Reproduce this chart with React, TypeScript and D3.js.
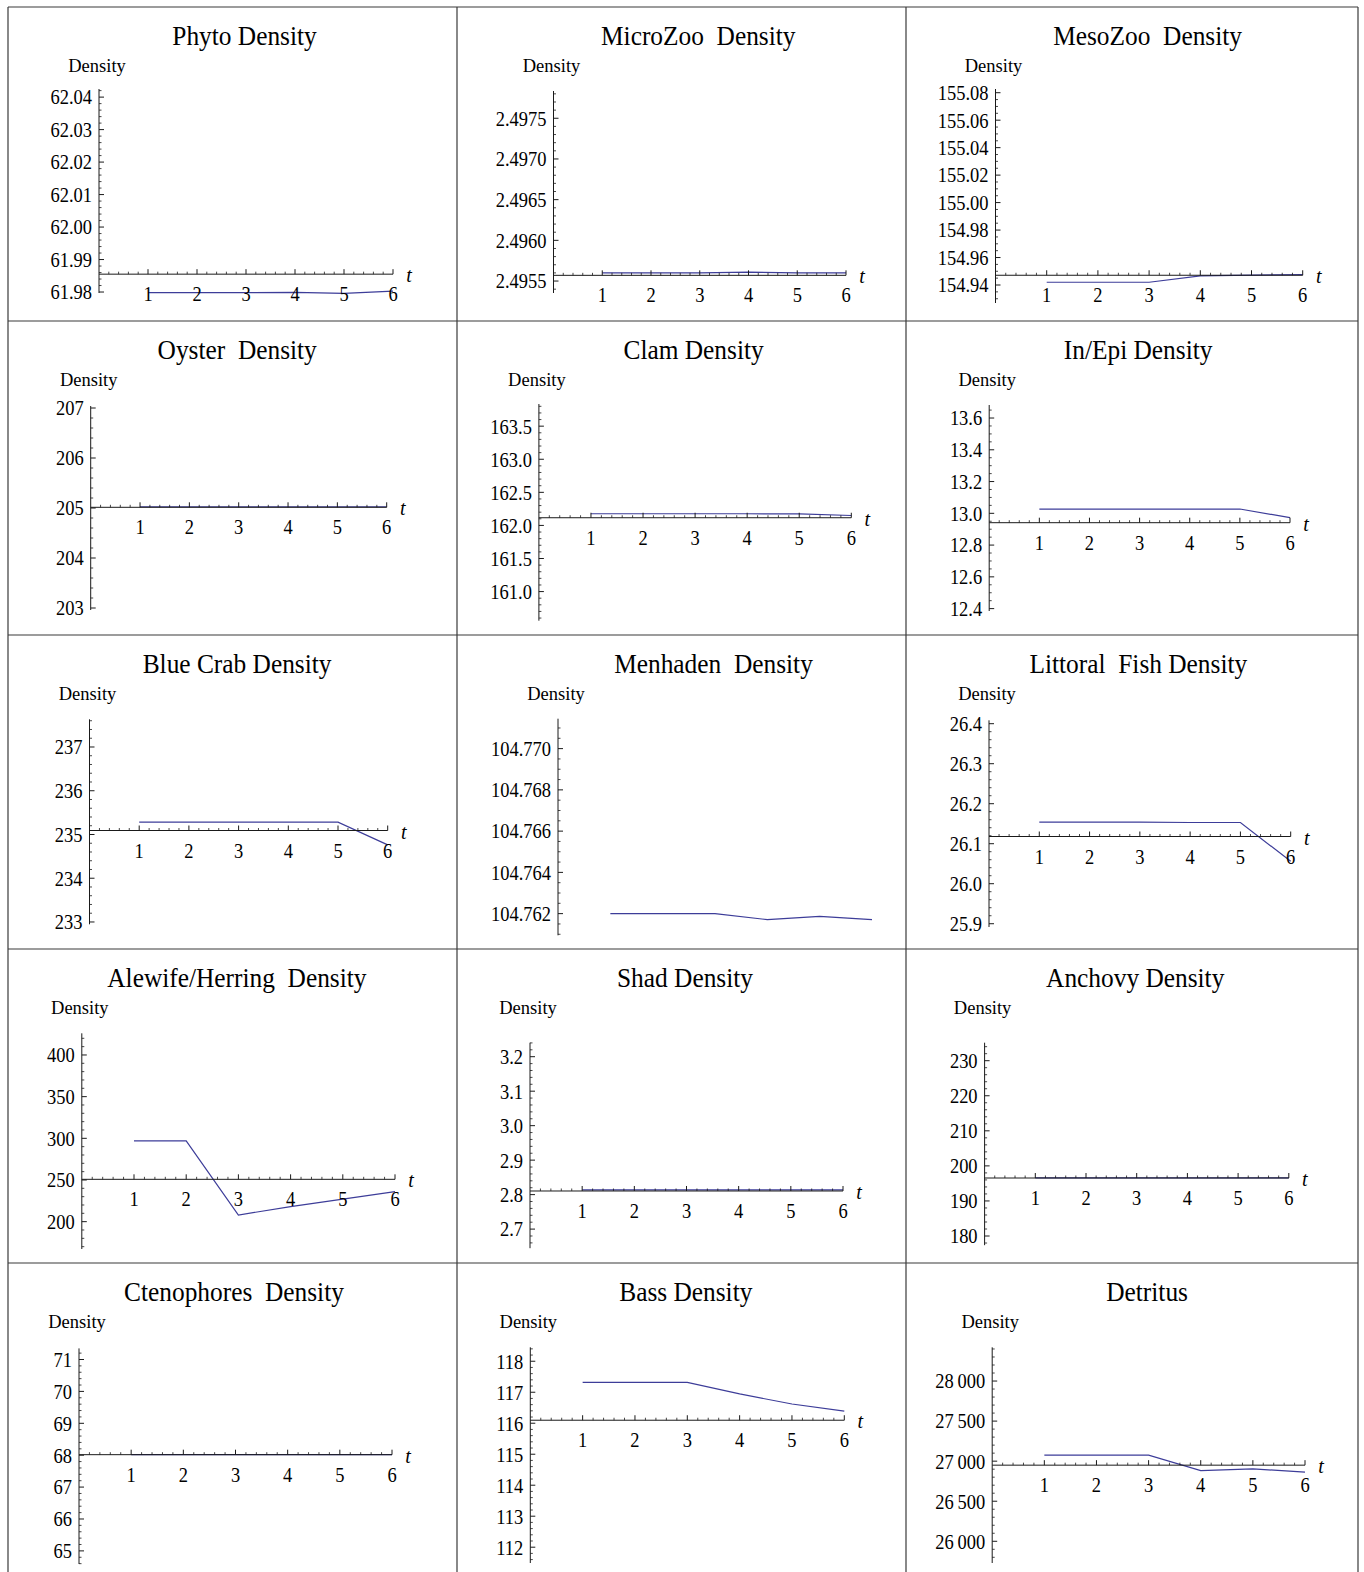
import React from "react";
import * as d3 from "d3";

// ---------- DATA ----------
const tValues = [1, 2, 3, 4, 5, 6];
const tTickLabels = ["1", "2", "3", "4", "5", "6"];

const titles = [
  "Phyto Density",
  "MicroZoo  Density",
  "MesoZoo  Density",
  "Oyster  Density",
  "Clam Density",
  "In/Epi Density",
  "Blue Crab Density",
  "Menhaden  Density",
  "Littoral  Fish Density",
  "Alewife/Herring  Density",
  "Shad Density",
  "Anchovy Density",
  "Ctenophores  Density",
  "Bass Density",
  "Detritus",
];

const phyto = [61.9798, 61.9798, 61.9798, 61.9799, 61.9796, 61.9803];
const microZoo = [2.4956, 2.4956, 2.4956, 2.49561, 2.4956, 2.4956];
const mesoZoo = [154.942, 154.942, 154.942, 154.9466, 154.9472, 154.9475];
const oyster = [205.025, 205.025, 205.025, 205.025, 205.025, 205.025];
const clam = [162.176, 162.176, 162.176, 162.176, 162.175, 162.15];
const inEpi = [13.027, 13.027, 13.027, 13.027, 13.027, 12.973];
const blueCrab = [235.281, 235.281, 235.281, 235.281, 235.281, 234.762];
const menhaden = [104.762, 104.762, 104.762, 104.76171, 104.76187, 104.76171];
const littoralFish = [26.154, 26.154, 26.154, 26.153, 26.153, 26.056];
const alewife = [297, 297, 208, 218, 227, 236];
const shad = [2.814, 2.814, 2.814, 2.814, 2.814, 2.814];
const anchovy = [196.6, 196.6, 196.6, 196.6, 196.6, 196.6];
const ctenophores = [68.02, 68.02, 68.02, 68.02, 68.02, 68.02];
const bass = [117.32, 117.32, 117.32, 116.945, 116.62, 116.39];
const detritus = [27075, 27075, 27075, 26883, 26904, 26862];

const phytoTicks = ["61.98", "61.99", "62.00", "62.01", "62.02", "62.03", "62.04"];
const microZooTicks = ["2.4955", "2.4960", "2.4965", "2.4970", "2.4975"];
const mesoZooTicks = ["154.94", "154.96", "154.98", "155.00", "155.02", "155.04", "155.06", "155.08"];
const oysterTicks = ["203", "204", "205", "206", "207"];
const clamTicks = ["161.0", "161.5", "162.0", "162.5", "163.0", "163.5"];
const inEpiTicks = ["12.4", "12.6", "12.8", "13.0", "13.2", "13.4", "13.6"];
const blueCrabTicks = ["233", "234", "235", "236", "237"];
const menhadenTicks = ["104.762", "104.764", "104.766", "104.768", "104.770"];
const littoralTicks = ["25.9", "26.0", "26.1", "26.2", "26.3", "26.4"];
const alewifeTicks = ["200", "250", "300", "350", "400"];
const shadTicks = ["2.7", "2.8", "2.9", "3.0", "3.1", "3.2"];
const anchovyTicks = ["180", "190", "200", "210", "220", "230"];
const ctenoTicks = ["65", "66", "67", "68", "69", "70", "71"];
const bassTicks = ["112", "113", "114", "115", "116", "117", "118"];
const detritusTicks = ["26\u2009000", "26\u2009500", "27\u2009000", "27\u2009500", "28\u2009000"];

// y-axis extent (data units)
const yRanges = [
  [61.9797, 62.0425],
  [2.495353, 2.497835],
  [154.9269, 155.0827],
  [202.96, 207.04],
  [160.56, 163.835],
  [12.385, 13.682],
  [232.947, 237.633],
  [104.76095, 104.77145],
  [25.8918, 26.4085],
  [167.2, 426],
  [2.6446, 3.2406],
  [177.38, 235.13],
  [64.589, 71.348],
  [111.49, 118.45],
  [25729, 28421],
];
// value where the t axis crosses (null = not shown)
const axisCross = [
  61.9855, 2.49557, 154.9471, 205.014, 162.116, 12.941, 235.091, null, 26.118,
  250.8, 2.8105, 196.54, 68.016, 116.097, 26950,
];
const minorSteps = [
  0.002, 0.0001, 0.005, 0.2, 0.1, 0.05, 0.2, 0.0005, 0.02, 10, 0.02, 2, 0.2, 0.2, 100,
];

const seriesList = [
  phyto, microZoo, mesoZoo, oyster, clam, inEpi, blueCrab, menhaden, littoralFish,
  alewife, shad, anchovy, ctenophores, bass, detritus,
];
const tickList = [
  phytoTicks, microZooTicks, mesoZooTicks, oysterTicks, clamTicks, inEpiTicks,
  blueCrabTicks, menhadenTicks, littoralTicks, alewifeTicks, shadTicks, anchovyTicks,
  ctenoTicks, bassTicks, detritusTicks,
];

// ---------- LAYOUT ----------
const COLS = [8, 457, 906];
const ROWS = [7, 321, 635, 949, 1263];
const CELL_RIGHT = 1358;
// [x of t=0, x of t=6, y top of axis, y bottom of axis] relative to cell
const frames = [
  [91, 385, 82, 286],
  [96.5, 389, 84, 286],
  [89.5, 396.7, 82, 296],
  [82.7, 378.7, 85, 289],
  [81.9, 394.3, 83, 299.7],
  [83.2, 384, 84, 290],
  [81.5, 379.7, 84.3, 289.3],
  [101, 415, 83.7, 300.3],
  [83, 384.7, 85.3, 292],
  [73.8, 387, 84.3, 300],
  [73, 386, 93.7, 299.2],
  [78.6, 382.8, 93.7, 296.2],
  [71, 384, 85.4, 301],
  [73.3, 387.3, 84.3, 300],
  [86.2, 399, 84.3, 300],
];

const LINE_COLOR = "#3d3d99";
const AXIS_COLOR = "#1a1a1a";
const FONT = "'Liberation Serif', 'Times New Roman', serif";

function parseTick(s: string) {
  return parseFloat(s.replace(/[\s\u2009]/g, ""));
}

function Panel({ idx }: { idx: number }) {
  const col = idx % 3;
  const row = Math.floor(idx / 3);
  const ox = COLS[col];
  const oy = ROWS[row];
  const [ax0, ax6, yTop, yBot] = frames[idx];
  const [lo, hi] = yRanges[idx];
  const x = d3.scaleLinear().domain([0, 6]).range([ax0, ax6]);
  const y = d3.scaleLinear().domain([lo, hi]).range([yBot, yTop]);
  const data = seriesList[idx];
  const labels = tickList[idx];
  const majors = labels.map(parseTick);
  const step = minorSteps[idx];
  const k0 = Math.ceil(lo / step - 1e-6);
  const k1 = Math.floor(hi / step + 1e-6);
  const minors = d3
    .range(k0, k1 + 1)
    .map((k) => k * step)
    .filter((v) => !majors.some((m) => Math.abs(m - v) < step * 0.05));
  const cross = axisCross[idx];
  const axY = cross == null ? null : y(cross);
  const xMinors = d3.range(0, 31).map((k) => k * 0.2).filter((v) => Math.abs(v - Math.round(v)) > 1e-6);
  const line = d3
    .line<number>()
    .x((_, i) => x(tValues[i]))
    .y((d) => y(d));

  const titleX = (ax0 + ax6) / 2 - 1.5;

  return (
    <g transform={`translate(${ox},${oy})`}>
      <text
        x={0}
        y={0}
        transform={`translate(${titleX},38) scale(0.94,1)`}
        textAnchor="middle"
        fontSize={27}
        style={{ whiteSpace: "pre" }}
      >
        {titles[idx]}
      </text>
      <text x={ax0 - 2} y={65} textAnchor="middle" fontSize={18.5}>
        Density
      </text>

      {/* data line */}
      <path d={line(data) || ""} fill="none" stroke={LINE_COLOR} strokeWidth={1.2} />

      {/* y axis */}
      <line x1={ax0} x2={ax0} y1={yTop} y2={yBot} stroke={AXIS_COLOR} strokeWidth={1} />
      {minors.map((v, i) => (
        <line key={"ym" + i} x1={ax0} x2={ax0 + 2.5} y1={y(v)} y2={y(v)} stroke={AXIS_COLOR} strokeWidth={0.8} />
      ))}
      {majors.map((v, i) => (
        <g key={"yM" + i}>
          <line x1={ax0} x2={ax0 + 5} y1={y(v)} y2={y(v)} stroke={AXIS_COLOR} strokeWidth={1} />
          <text
            transform={`translate(${ax0 - 7},${y(v)}) scale(0.88,1)`}
            textAnchor="end"
            dy="0.35em"
            fontSize={21}
          >
            {labels[i]}
          </text>
        </g>
      ))}

      {/* t axis */}
      {axY != null && (
        <g>
          <line x1={ax0} x2={ax6} y1={axY} y2={axY} stroke={AXIS_COLOR} strokeWidth={1} />
          {xMinors.map((v, i) => (
            <line key={"xm" + i} x1={x(v)} x2={x(v)} y1={axY} y2={axY - 2.5} stroke={AXIS_COLOR} strokeWidth={0.8} />
          ))}
          {tValues.map((v, i) => (
            <g key={"xM" + i}>
              <line x1={x(v)} x2={x(v)} y1={axY} y2={axY - 5} stroke={AXIS_COLOR} strokeWidth={1} />
              <text transform={`translate(${x(v)},${axY + 27}) scale(0.88,1)`} textAnchor="middle" fontSize={21}>
                {tTickLabels[i]}
              </text>
            </g>
          ))}
          <text x={ax6 + 16} y={axY + 8} textAnchor="middle" fontSize={20} fontStyle="italic">
            t
          </text>
        </g>
      )}
    </g>
  );
}

export default function App() {
  const W = 1364;
  const H = 1572;
  return (
    <svg
      width={W}
      height={H}
      style={{ position: "absolute", left: 0, top: 0, background: "#fff" }}
      fontFamily={FONT}
    >
      <rect x={0} y={0} width={W} height={H} fill="#fff" />
      {/* table grid */}
      {ROWS.map((ry, i) => (
        <line key={"h" + i} x1={COLS[0]} x2={CELL_RIGHT} y1={ry} y2={ry} stroke="#3a3a3a" strokeWidth={1.2} />
      ))}
      {[...COLS, CELL_RIGHT].map((cx, i) => (
        <line key={"v" + i} x1={cx} x2={cx} y1={ROWS[0]} y2={H} stroke="#3a3a3a" strokeWidth={1.2} />
      ))}
      {titles.map((_, i) => (
        <Panel key={i} idx={i} />
      ))}
    </svg>
  );
}
